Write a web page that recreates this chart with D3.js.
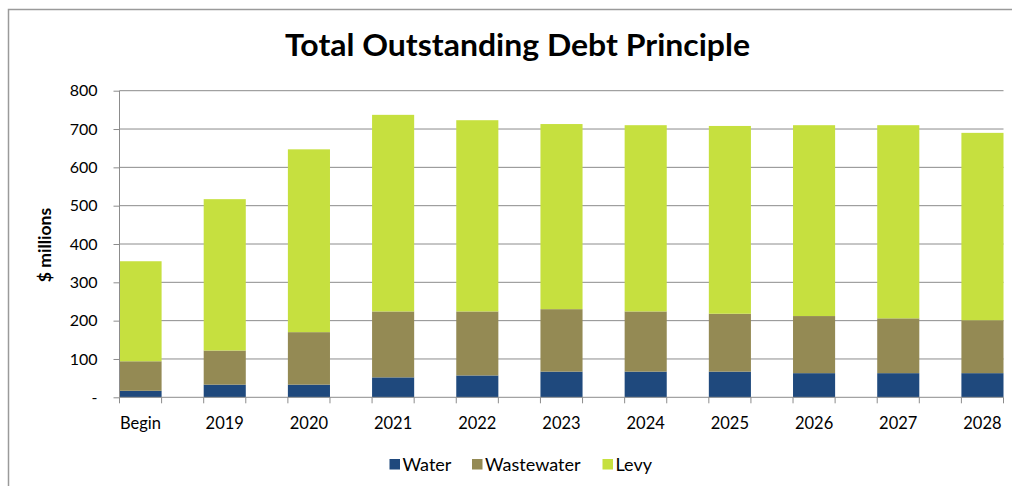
<!DOCTYPE html>
<html>
<head>
<meta charset="utf-8">
<script src="https://cdn.jsdelivr.net/npm/d3@7"></script>
<style>
  html, body { margin: 0; padding: 0; background: #fff; }
  svg { display: block; font-family: Lato, "Open Sans", sans-serif; }
</style>
</head>
<body>
<svg id="chart" width="1012" height="486"></svg>
<script>
// Outstanding debt principle by period, $ millions
const categories = ["Begin", "2019", "2020", "2021", "2022", "2023", "2024", "2025", "2026", "2027", "2028"];
const water      = [17, 33, 33, 52, 57, 67, 67, 67, 63, 63, 63];
const wastewater = [77, 89, 137, 172, 167, 163, 157, 151, 149, 143, 138];
const levy       = [261, 395, 477, 513, 499, 483, 486, 490, 498, 504, 489];
const seriesNames = ["Water", "Wastewater", "Levy"];
const seriesColors = ["#1F497D", "#948A54", "#C6E03F"];
const yTicks = [0, 100, 200, 300, 400, 500, 600, 700, 800];

const svg = d3.select("#chart");
const plot = { left: 119.5, right: 1003.5, top: 90.7, bottom: 397.3 };

// chart area border (runs off the right and bottom edges)
svg.append("rect")
  .attr("x", 8.5).attr("y", 9.5)
  .attr("width", 1100).attr("height", 600)
  .attr("fill", "none").attr("stroke", "#9a9a9a").attr("stroke-width", 1.5);

svg.append("text")
  .attr("x", 285).attr("y", 56)
  .attr("font-size", 30).attr("font-weight", 700)
  .attr("textLength", 465).attr("lengthAdjust", "spacingAndGlyphs")
  .attr("fill", "#000")
  .text("Total Outstanding Debt Principle");

const rows = categories.map((c, i) => ({
  cat: c, Water: water[i], Wastewater: wastewater[i], Levy: levy[i]
}));
const stacked = d3.stack().keys(seriesNames)(rows);

const x = d3.scaleBand()
  .domain(categories)
  .range([plot.left, plot.right])
  .paddingInner(0.5)
  .paddingOuter(0);

const y = d3.scaleLinear()
  .domain([0, 800])
  .range([plot.bottom, plot.top]);

// horizontal gridlines
svg.append("g")
  .selectAll("line")
  .data(yTicks.filter(d => d > 0))
  .join("line")
  .attr("x1", plot.left).attr("x2", plot.right)
  .attr("y1", d => y(d)).attr("y2", d => y(d))
  .attr("stroke", "#8c8c8c").attr("stroke-width", 1);

// stacked bars
svg.append("g")
  .selectAll("g")
  .data(stacked)
  .join("g")
  .attr("fill", (d, i) => seriesColors[i])
  .selectAll("rect")
  .data(d => d)
  .join("rect")
  .attr("x", d => x(d.data.cat))
  .attr("width", x.bandwidth())
  .attr("y", d => y(d[1]))
  .attr("height", d => y(d[0]) - y(d[1]));

// y axis
const yAxis = d3.axisLeft(y)
  .tickValues(yTicks)
  .tickSize(6)
  .tickPadding(16)
  .tickFormat(d => d === 0 ? "-" : d3.format("d")(d));
const gy = svg.append("g")
  .attr("transform", `translate(${plot.left},0)`)
  .call(yAxis);
gy.select(".domain").attr("stroke", "#8c8c8c").attr("d", `M-0,${plot.top}V${plot.bottom}`);
gy.selectAll(".tick line").attr("stroke", "#8c8c8c");
gy.selectAll(".tick text")
  .attr("font-size", 16).attr("fill", "#000")
  .attr("font-family", "Lato, sans-serif");

// x axis: tick marks at each bar edge
const edges = [];
categories.forEach(c => { edges.push(x(c)); edges.push(x(c) + x.bandwidth()); });
const gx = svg.append("g");
gx.append("line")
  .attr("x1", plot.left).attr("x2", plot.right)
  .attr("y1", plot.bottom).attr("y2", plot.bottom)
  .attr("stroke", "#8c8c8c");
gx.selectAll("line.edge")
  .data(edges)
  .join("line")
  .attr("class", "edge")
  .attr("x1", d => d).attr("x2", d => d)
  .attr("y1", plot.bottom).attr("y2", plot.bottom + 6)
  .attr("stroke", "#8c8c8c");
gx.selectAll("text")
  .data(categories)
  .join("text")
  .attr("x", d => x(d) + x.bandwidth() / 2)
  .attr("y", 428.5)
  .attr("text-anchor", "middle")
  .attr("font-size", 16.5)
  .attr("fill", "#000")
  .text(d => d);

// y axis title
svg.append("text")
  .attr("transform", "translate(51,245) rotate(-90)")
  .attr("text-anchor", "middle")
  .attr("font-size", 17.5).attr("font-weight", 700)
  .attr("fill", "#000")
  .text("$ millions");

// legend
const legendItems = [
  { name: "Water", x: 389.5 },
  { name: "Wastewater", x: 472 },
  { name: "Levy", x: 602.5 }
];
const lg = svg.append("g");
legendItems.forEach((it, i) => {
  lg.append("rect")
    .attr("x", it.x).attr("y", 459)
    .attr("width", 10.5).attr("height", 10.5)
    .attr("fill", seriesColors[i]);
  lg.append("text")
    .attr("x", it.x + 13).attr("y", 470.5)
    .attr("font-size", 18).attr("fill", "#000")
    .text(it.name);
});
</script>
</body>
</html>
